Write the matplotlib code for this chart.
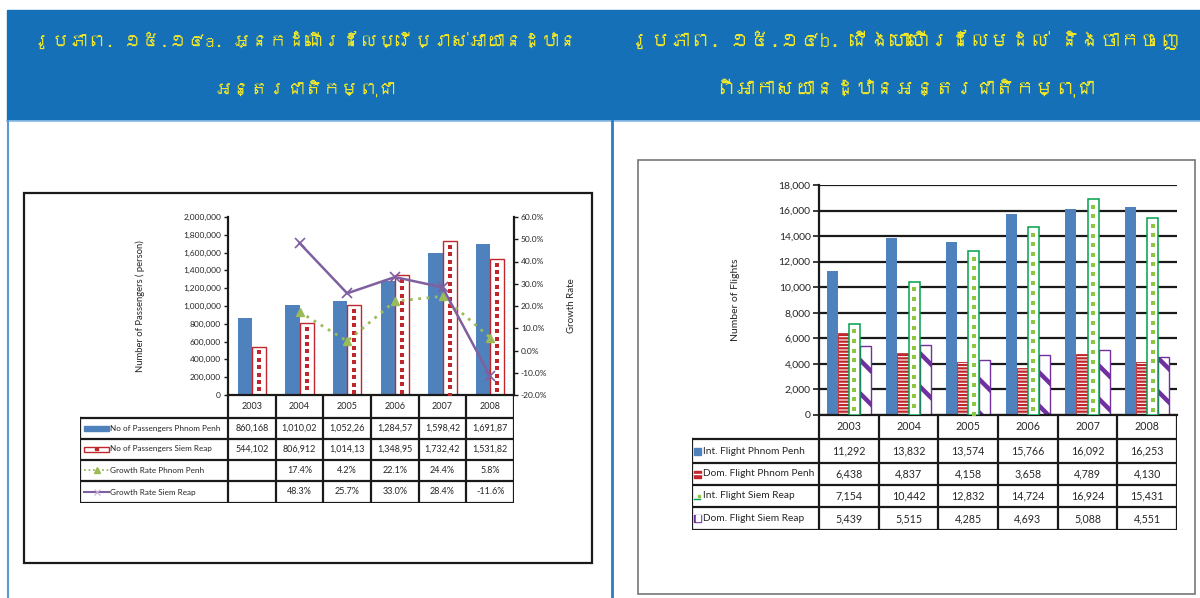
import matplotlib
matplotlib.use('Agg')
import matplotlib.pyplot as plt
import numpy as np
from matplotlib import font_manager, ft2font
from matplotlib.patches import Rectangle
from matplotlib.ticker import FuncFormatter

# ---- data ----
years = ['2003', '2004', '2005', '2006', '2007', '2008']

pass_pp = [860168, 1010025, 1052265, 1284575, 1598425, 1691875]
pass_sr = [544102, 806912, 1014135, 1348955, 1732425, 1531825]
growth_pp = [None, 17.4, 4.2, 22.1, 24.4, 5.8]
growth_sr = [None, 48.3, 25.7, 33.0, 28.4, -11.6]
pass_names = ['No of Passengers Phnom Penh', 'No of Passengers Siem Reap',
              'Growth Rate Phnom Penh', 'Growth Rate Siem Reap']

int_pp = [11292, 13832, 13574, 15766, 16092, 16253]
dom_pp = [6438, 4837, 4158, 3658, 4789, 4130]
int_sr = [7154, 10442, 12832, 14724, 16924, 15431]
dom_sr = [5439, 5515, 4285, 4693, 5088, 4551]
flight_names = ['Int. Flight Phnom Penh', 'Dom. Flight Phnom Penh',
                'Int. Flight Siem Reap', 'Dom. Flight Siem Reap']

title_a = ['រូបភាព. ១៥.១៤a. អ្នកដំណើរដែលប្រើប្រាស់អាយានដ្ឋាន', 'អន្តរជាតិកម្ពុជា']
title_b = ['រូបភាព. ១៥.១៤b. ជើងហោះហើរដែលមដល់ និងចាកចេញ', 'ពីអាកាសយានដ្ឋានអន្តរជាតិកម្ពុជា']

# ---- fonts ----
khmer = None
for f in font_manager.fontManager.ttflist:
    try:
        if 0x1780 in ft2font.FT2Font(f.fname).get_charmap():
            khmer = f.name
            break
    except Exception:
        pass
title_family = [khmer, 'DejaVu Sans'] if khmer else ['DejaVu Sans']
plt.rcParams['font.family'] = ['Lato', 'DejaVu Sans']

BLUE = '#4f81bd'
RED = '#c0272d'
GREEN_E = '#00a04b'
GREEN_D = '#8dc63f'
PURPLE = '#7030a0'
TXT = '#262626'

W, H = 1200, 598
fig = plt.figure(figsize=(12, 5.98), dpi=100)


def box(x0, y0, x1, y1):
    return [x0 / W, 1 - y1 / H, (x1 - x0) / W, (y1 - y0) / H]


def hbar(ax, x, h, w, hatch_lw=1.0, **kw):
    plt.rcParams['hatch.linewidth'] = hatch_lw
    bars = ax.bar(x, h, w, **kw)
    for b in bars:
        if hasattr(b, 'set_hatch_linewidth'):
            b.set_hatch_linewidth(hatch_lw)
    return bars


def dot_fill(ax, xs, hs, step_px, color, ms):
    # single column of small squares inside each bar
    lo, hi = ax.get_ylim()
    step = step_px * (hi - lo) / ax.bbox.height
    for xc, h in zip(xs, hs):
        ys = np.arange(h - step * 0.8, 0, -step)
        ax.plot(np.full(len(ys), xc), ys, ls='none', marker='s', ms=ms,
                mew=0, color=color, zorder=4)


# ---- page decoration ----
bg = fig.add_axes([0, 0, 1, 1], zorder=-5)
bg.set_xlim(0, W)
bg.set_ylim(H, 0)
bg.axis('off')
bg.add_patch(Rectangle((7, 10), W - 7, 110, color='#1570b8'))
bg.plot([7, W], [120.5, 120.5], color='#8ec0ea', lw=1.2)
bg.plot([7.5, 7.5], [121, H], color='#5b9bd5', lw=1.5)
bg.plot([612, 612], [121, H], color='#2a7dc8', lw=2)
bg.add_patch(Rectangle((24, 193), 568, 370, fill=False, ec='#1a1a1a', lw=1.6))
bg.add_patch(Rectangle((638, 160), 557, 434, fill=False, ec='#777777', lw=1.2))

fig.canvas.draw()
renderer = fig.canvas.get_renderer()
for lines, cx, target in [(title_a, 305, 545), (title_b, 905, 550)]:
    objs = [bg.text(cx, 40 + 48 * i, t, ha='center', va='center', fontsize=17,
                    style='italic', color='#f2e829', family=title_family)
            for i, t in enumerate(lines)]
    width = objs[0].get_window_extent(renderer).width
    for o in objs:
        o.set_fontsize(17 * min(1.0, target / width))

x = np.arange(len(years))

# ---- left chart: passengers ----
ax1 = fig.add_axes(box(228, 217, 514, 395))
ax1.set_facecolor('none')
ax1.set_xlim(-0.5, 5.5)
ax1.set_ylim(0, 2000000)
ax1.bar(x - 0.15, pass_pp, 0.3, color=BLUE, zorder=2)
ax1.bar(x + 0.15, pass_sr, 0.3, facecolor='white', edgecolor=RED, lw=1.0, zorder=2)
dot_fill(ax1, x + 0.15, pass_sr, 7.4, RED, 2.4)
ax1.set_yticks(np.arange(0, 2000001, 200000))
ax1.yaxis.set_major_formatter(FuncFormatter(lambda v, p: f'{v:,.0f}'))
ax1.set_xticks([])
for s in ['top', 'right']:
    ax1.spines[s].set_visible(False)
for s in ['left', 'bottom']:
    ax1.spines[s].set_linewidth(1.6)
    ax1.spines[s].set_color('#1a1a1a')
ax1.tick_params(axis='y', labelsize=6, length=3, width=1, colors='#1a1a1a',
                labelcolor=TXT, pad=2)

ax2 = ax1.twinx()
gx = x[1:]
ax2.plot(gx, np.array(growth_pp[1:]) / 100, ls=(0, (1, 2)), lw=2, color='#9bbb59',
         marker='^', ms=6, zorder=3)
ax2.plot(gx, np.array(growth_sr[1:]) / 100, ls='-', lw=1.8, color='#7f5fa0',
         marker='x', ms=7, mew=1.2, zorder=3)
ax2.set_ylim(-0.2, 0.6)
ax2.set_yticks(np.arange(-0.2, 0.61, 0.1))
ax2.yaxis.set_major_formatter(FuncFormatter(lambda v, p: f'{v * 100:.1f}%'))
for s in ['top', 'left', 'bottom']:
    ax2.spines[s].set_visible(False)
ax2.spines['right'].set_linewidth(1.6)
ax2.spines['right'].set_color('#1a1a1a')
ax2.tick_params(axis='y', labelsize=6, length=3, width=1, colors='#1a1a1a',
                labelcolor=TXT, pad=2)

fig.text(140 / W, 1 - 306 / H, 'Number of Passengers ( person)', rotation=90,
         ha='center', va='center', fontsize=6.8, color=TXT)
fig.text(572 / W, 1 - 306 / H, 'Growth Rate', rotation=90,
         ha='center', va='center', fontsize=7, color=TXT)


def draw_table(left, right, top, row_px, cats, rows, fs, keyfn):
    catw = (right - cats) / len(years)
    legw = (cats - left) / catw
    x0 = -0.5 - legw
    bottom = top + sum(row_px)
    tab = fig.add_axes(box(left, top, right, bottom))
    tab.set_xlim(x0, 5.5)
    tab.set_ylim(bottom - top, 0)
    tab.axis('off')
    edges = np.concatenate([[0], np.cumsum(row_px)])
    lk = dict(color='#1a1a1a', lw=1.6, solid_capstyle='projecting')
    for e in edges[1:]:
        tab.plot([x0, 5.5], [e, e], **lk)
    for b in np.arange(-0.5, 5.6, 1):
        tab.plot([b, b], [0, edges[-1]], **lk)
    tab.plot([x0, x0], [edges[1], edges[-1]], **lk)
    for i, yr in enumerate(years):
        tab.text(i, (edges[0] + edges[1]) / 2, yr, ha='center', va='center',
                 fontsize=fs, color=TXT)
    for r, vals in enumerate(rows):
        yc = (edges[r + 1] + edges[r + 2]) / 2
        keyfn(tab, r, x0, catw, yc)
        for i, v in enumerate(vals):
            tab.text(i, yc, v, ha='center', va='center', fontsize=fs, color=TXT)
    return tab


def fmt_pass(v):
    return f'{v:,}'[:8]


def fmt_rate(v):
    return '' if v is None else f'{v:.1f}%'


rows_a = [[fmt_pass(v) for v in pass_pp], [fmt_pass(v) for v in pass_sr],
          [fmt_rate(v) for v in growth_pp], [fmt_rate(v) for v in growth_sr]]


def keys_a(tab, r, x0, catw, yc):
    p = lambda px: x0 + (px - 80) / catw
    if r == 0:
        tab.add_patch(Rectangle((p(84), yc - 2.5), 25 / catw, 5, color=BLUE))
    elif r == 1:
        tab.add_patch(Rectangle((p(84), yc - 2.5), 25 / catw, 5, fc='white', ec=RED, lw=1))
        tab.add_patch(Rectangle((p(95.5), yc - 1), 2.5 / catw, 2, color=RED))
    elif r == 2:
        tab.plot([p(84), p(109)], [yc, yc], ls=(0, (1, 1.5)), lw=1.3, color='#9bbb59')
        tab.plot([p(96.5)], [yc], marker='^', ms=4, color='#9bbb59')
    else:
        tab.plot([p(84), p(109)], [yc, yc], lw=1.5, color='#7f5fa0')
        tab.plot([p(96.5)], [yc], marker='x', ms=4, mew=0.8, color='#c7b3dd')
    tab.text(p(110.5), yc, pass_names[r], ha='left', va='center', fontsize=5.9, color=TXT)


draw_table(80, 514, 395, [23, 20.5, 21, 21.5, 22], 228, rows_a, 6.5, keys_a)

# ---- right chart: flights ----
ax3 = fig.add_axes(box(819, 185, 1177, 415))
ax3.set_facecolor('none')
ax3.set_axisbelow(True)
ax3.set_xlim(-0.5, 5.5)
ax3.set_ylim(0, 18000)
bw = 0.185
off = np.array([-1.5, -0.5, 0.5, 1.5]) * bw
ax3.bar(x + off[0], int_pp, bw, color=BLUE, zorder=2)
hbar(ax3, x + off[1], dom_pp, bw, hatch_lw=1.6, facecolor='white', edgecolor=RED,
     hatch='-----', lw=0.6, zorder=2)
ax3.bar(x + off[2], int_sr, bw, facecolor='white', edgecolor=GREEN_E, lw=1.1, zorder=3)
dot_fill(ax3, x + off[2], int_sr, 9.7, GREEN_D, 2.4)
hbar(ax3, x + off[3], dom_sr, bw, hatch_lw=3.2, facecolor='white', edgecolor=PURPLE,
     hatch='\\', lw=1, zorder=2)
ax3.set_yticks(np.arange(0, 18001, 2000))
ax3.yaxis.set_major_formatter(FuncFormatter(lambda v, p: f'{v:,.0f}'))
ax3.set_xticks([])
ax3.grid(axis='y', color='#1a1a1a', lw=1.6)
for s in ['top', 'right']:
    ax3.spines[s].set_visible(False)
for s in ['left', 'bottom']:
    ax3.spines[s].set_linewidth(1.6)
    ax3.spines[s].set_color('#1a1a1a')
ax3.tick_params(axis='y', labelsize=7.5, length=4, width=1.2, colors='#1a1a1a',
                labelcolor=TXT, pad=2)
fig.text(735 / W, 1 - 300 / H, 'Number of Flights', rotation=90,
         ha='center', va='center', fontsize=7.5, color=TXT)

rows_b = [[f'{v:,}' for v in s] for s in (int_pp, dom_pp, int_sr, dom_sr)]


def keys_b(tab, r, x0, catw, yc):
    p = lambda px: x0 + (px - 692) / catw
    w = 7 / catw
    if r == 0:
        tab.add_patch(Rectangle((p(694), yc - 3.5), w, 7, color=BLUE))
    elif r == 1:
        tab.add_patch(Rectangle((p(694), yc - 3.5), w, 7, color=RED))
        tab.plot([p(694), p(701)], [yc, yc], color='white', lw=1)
    elif r == 2:
        tab.plot([p(694), p(700)], [yc + 3, yc + 3], color=GREEN_E, lw=1)
        tab.add_patch(Rectangle((p(698), yc - 1), 2 / catw, 2, color=GREEN_D))
    else:
        tab.add_patch(Rectangle((p(694), yc - 3.5), w, 7, color=PURPLE))
        tab.add_patch(Rectangle((p(695.5), yc - 3.5), 4.5 / catw, 5.5, color='white'))
    tab.text(p(703), yc, flight_names[r], ha='left', va='center', fontsize=7.3, color=TXT)


draw_table(692, 1177, 415, [24, 24, 22, 22, 23], 819, rows_b, 7.7, keys_b)

fig.savefig('out.png', dpi=100)
